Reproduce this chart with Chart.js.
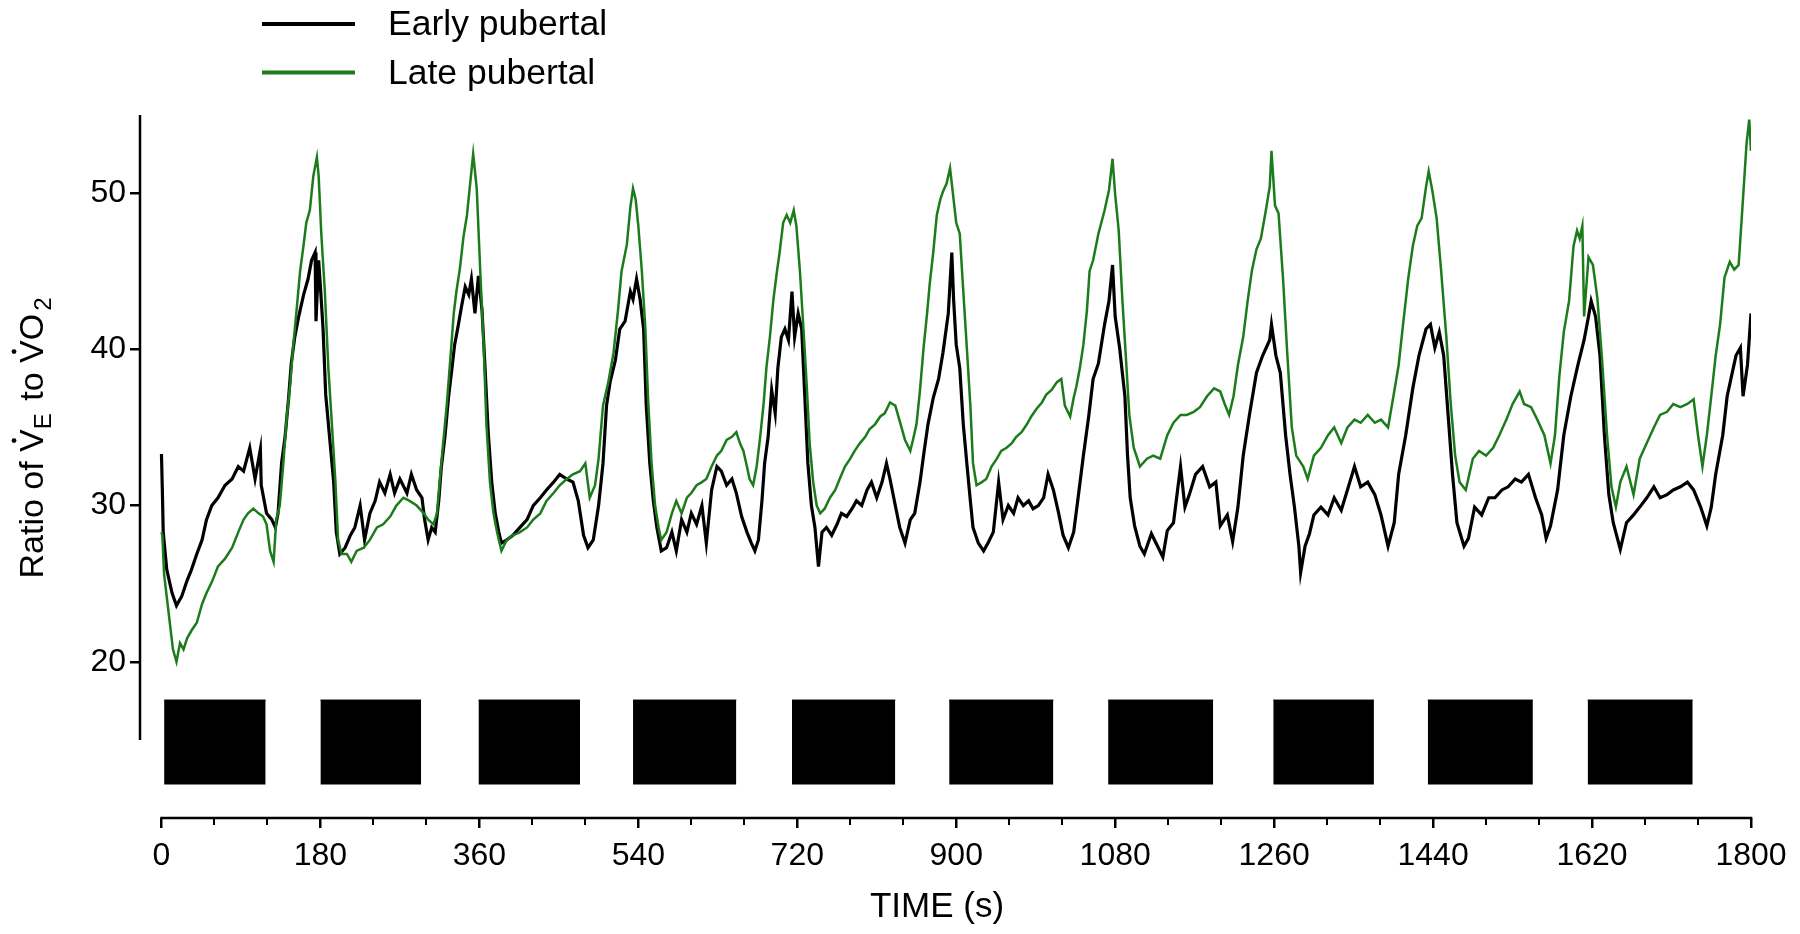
<!DOCTYPE html>
<html>
<head>
<meta charset="utf-8">
<style>
html,body{margin:0;padding:0;background:#fff;}
#wrap{width:1800px;height:934px;position:relative;}
</style>
</head>
<body>
<div id="wrap"><canvas id="c"></canvas></div>
<script src="https://cdn.jsdelivr.net/npm/chart.js@4/dist/chart.umd.min.js"></script>
<script>
// ---- data ----
const earlyTime = [
0,1,2,6,12,17,23,29,34,40,
46,51,57,64,72,80,87,93,100,106,
112,113,119,125,129,132,136,140,144,147,
151,155,161,166,170,174,175,178,180,183,
186,191,195,198,202,208,214,219,225,230,
236,242,247,253,259,264,270,278,283,289,
295,298,302,306,310,314,317,321,325,329,
332,336,340,344,348,351,355,359,363,366,
370,374,378,382,385,391,398,406,414,421,
429,436,444,451,459,466,472,478,483,489,
495,500,504,508,514,519,525,531,534,538,
542,546,549,553,557,561,566,572,578,583,
589,595,600,606,612,617,623,629,634,640,
646,651,657,663,668,672,676,680,683,687,
691,695,698,702,706,710,714,717,721,725,
729,732,736,740,744,748,753,759,765,770,
776,782,787,793,799,804,810,816,821,825,
831,836,842,848,853,859,863,868,874,880,
885,891,895,897,900,904,908,912,916,919,
925,931,936,942,948,953,959,965,970,976,
982,987,993,999,1004,1010,1016,1021,1027,1033,
1038,1044,1050,1055,1061,1068,1073,1077,1080,1085,
1091,1094,1097,1102,1108,1113,1121,1128,1134,1139,
1146,1154,1159,1164,1171,1179,1187,1194,1199,1207,
1213,1219,1225,1232,1240,1247,1255,1257,1262,1267,
1273,1278,1283,1288,1290,1295,1300,1305,1313,1321,
1328,1336,1343,1351,1358,1366,1374,1381,1389,1396,
1401,1409,1417,1424,1432,1437,1442,1447,1452,1457,
1462,1467,1475,1480,1487,1495,1503,1510,1518,1525,
1533,1540,1548,1556,1563,1568,1573,1581,1588,1596,
1604,1611,1616,1619,1624,1629,1634,1639,1644,1652,
1659,1667,1674,1682,1690,1697,1705,1712,1720,1728,
1735,1743,1750,1755,1760,1768,1773,1778,1783,1788,
1791,1796,1800];
const earlyRatio = [
33.3,31.0,28.3,25.9,24.4,23.6,24.2,25.2,25.9,26.9,
27.8,29.1,30.0,30.5,31.3,31.7,32.5,32.2,33.7,31.7,
33.6,31.3,29.5,29.1,28.6,29.5,32.7,34.4,36.9,39.1,
40.8,42.0,43.5,44.5,45.7,46.2,41.8,45.7,44.0,41.3,
37.1,34.0,31.5,28.3,26.9,27.3,28.1,28.6,30.0,27.8,
29.5,30.3,31.5,30.8,32.0,30.8,31.7,30.8,32.0,31.0,
30.5,29.1,27.8,28.6,28.3,30.3,32.5,34.4,36.9,38.8,
40.3,41.5,42.8,44.0,43.5,44.5,42.3,44.7,42.5,39.3,
34.7,31.5,29.5,28.3,27.6,27.8,28.1,28.6,29.1,30.0,
30.5,31.0,31.5,32.0,31.7,31.5,30.3,28.1,27.3,27.8,
30.0,32.7,36.4,37.9,39.3,41.3,41.8,43.7,43.2,44.5,
43.2,41.3,36.4,32.7,30.3,28.6,27.1,27.3,28.3,27.1,
29.1,28.3,29.5,28.8,30.0,27.6,31.0,32.5,32.2,31.3,
31.7,30.8,29.3,28.3,27.6,27.1,27.8,30.3,32.7,34.4,
37.4,35.9,38.8,40.8,41.3,40.6,43.7,40.8,42.3,41.3,
36.4,32.7,30.0,28.6,26.1,28.3,28.6,28.1,28.8,29.5,
29.3,29.8,30.3,30.0,31.0,31.5,30.5,31.5,32.7,31.7,
30.0,28.6,27.6,29.1,29.5,31.5,33.2,35.2,36.9,38.1,
39.8,42.3,46.2,43.2,40.3,38.8,35.2,32.7,30.3,28.6,
27.6,27.1,27.6,28.3,31.5,29.1,30.0,29.5,30.5,30.0,
30.3,29.8,30.0,30.5,32.0,31.0,29.5,28.1,27.3,28.3,
30.5,33.2,35.7,38.1,39.1,41.6,43.1,45.4,42.1,40.1,
37.0,33.2,30.5,28.7,27.4,26.9,28.2,27.4,26.7,28.4,
28.9,32.5,29.9,30.7,32.0,32.5,31.2,31.5,28.7,29.4,
27.7,29.9,33.2,35.8,38.5,39.6,40.6,41.6,39.6,38.5,
34.5,32.0,29.9,27.4,25.7,27.4,28.2,29.4,29.9,29.4,
30.5,29.7,31.0,32.5,31.2,31.5,30.7,29.4,27.4,28.9,
32.0,34.5,37.5,39.6,41.3,41.6,40.1,41.1,39.6,35.8,
32.0,28.9,27.4,27.9,29.9,29.4,30.5,30.5,31.0,31.2,
31.7,31.5,32.0,30.5,29.4,27.9,28.7,31.0,34.5,37.0,
39.0,40.6,42.1,43.1,42.1,39.6,34.5,30.7,28.9,27.2,
28.9,29.4,29.9,30.5,31.2,30.5,30.7,31.0,31.2,31.5,
31.0,29.9,28.7,29.9,32.0,34.5,37.0,38.3,39.6,40.1,
37.0,39.0,42.3];

const lateTime = [
0,1,3,8,13,17,21,25,29,34,
40,46,51,57,64,72,80,87,93,98,
104,110,115,119,123,127,130,134,138,142,
146,149,153,157,161,164,168,172,176,178,
181,185,189,193,197,200,204,210,215,221,
229,236,244,251,259,266,274,281,289,297,
302,308,312,315,319,323,327,331,334,338,
342,346,349,353,357,361,365,368,372,376,
380,385,391,398,406,414,421,429,436,444,
451,459,466,474,480,485,491,495,500,506,
512,517,521,527,531,534,537,540,544,548,
551,555,559,563,566,572,578,583,589,595,
600,606,612,617,623,629,634,640,646,651,
655,659,663,666,670,674,678,682,685,689,
693,697,700,704,708,712,716,719,723,727,
731,734,738,742,746,751,757,763,768,774,
780,785,791,797,802,808,814,819,825,831,
836,842,848,851,855,859,863,867,870,874,
878,882,885,889,893,897,900,904,908,912,
916,919,923,929,934,940,946,951,957,963,
968,974,980,985,991,997,1002,1008,1014,1019,
1023,1029,1033,1036,1040,1044,1048,1051,1055,1061,
1068,1073,1077,1080,1084,1088,1092,1096,1101,1108,
1116,1123,1131,1139,1146,1154,1161,1169,1176,1184,
1192,1199,1204,1209,1214,1219,1225,1230,1235,1240,
1245,1250,1255,1257,1261,1265,1270,1275,1280,1285,
1293,1298,1305,1313,1321,1328,1336,1343,1351,1358,
1366,1374,1381,1389,1396,1401,1406,1412,1417,1422,
1427,1432,1435,1439,1444,1449,1455,1460,1465,1470,
1477,1485,1492,1500,1508,1515,1523,1530,1538,1543,
1551,1558,1566,1573,1578,1583,1588,1594,1599,1603,
1606,1609,1611,1616,1621,1626,1631,1637,1642,1647,
1652,1659,1667,1674,1682,1690,1697,1705,1712,1720,
1728,1735,1740,1745,1750,1755,1760,1765,1770,1776,
1781,1786,1791,1795,1798,1800];
const lateRatio = [
28.3,28.1,25.6,23.2,20.8,20.0,21.2,20.8,21.5,22.0,
22.5,23.7,24.4,25.1,26.1,26.6,27.3,28.3,29.1,29.5,
29.8,29.5,29.3,28.8,27.1,26.4,29.1,30.0,32.7,35.7,
37.9,40.1,42.5,45.0,46.7,48.1,48.9,51.1,52.3,51.1,
47.4,43.7,38.8,35.2,31.5,27.8,26.9,26.9,26.4,27.1,
27.3,27.8,28.6,28.8,29.3,30.0,30.5,30.3,30.0,29.5,
29.1,28.8,29.5,31.5,34.0,36.4,39.3,42.3,43.7,45.2,
47.2,48.6,50.3,52.5,50.3,45.0,40.1,35.2,31.5,29.5,
28.3,27.1,27.8,28.1,28.3,28.6,29.1,29.5,30.3,30.8,
31.3,31.7,32.0,32.2,32.7,30.5,31.3,33.0,36.4,37.9,
39.8,42.5,45.0,46.7,49.1,50.3,49.6,47.9,45.0,41.3,
36.9,32.7,30.0,28.6,27.8,28.3,29.5,30.3,29.5,30.5,
30.8,31.3,31.5,31.7,32.5,33.2,33.5,34.2,34.4,34.7,
34.0,33.5,32.5,31.7,31.3,32.5,34.4,36.6,38.8,40.8,
43.2,45.0,46.2,48.1,48.6,48.1,48.9,47.9,45.0,41.3,
37.4,34.0,31.5,30.0,29.5,29.8,30.5,31.0,31.7,32.5,
33.0,33.5,34.0,34.4,34.9,35.2,35.7,35.9,36.6,36.4,
35.4,34.2,33.5,34.2,35.2,37.4,40.1,42.3,44.2,46.2,
48.6,49.6,50.1,50.6,51.6,49.6,48.1,47.4,43.7,40.1,
36.4,32.7,31.3,31.5,31.7,32.5,33.0,33.5,33.7,34.0,
34.4,34.7,35.2,35.7,36.2,36.6,37.1,37.4,37.9,38.1,
36.4,35.7,36.9,37.6,38.8,40.3,42.5,45.0,45.7,47.4,
48.9,50.2,52.2,49.9,47.6,43.3,39.6,35.8,33.7,32.5,
33.0,33.2,33.0,34.5,35.3,35.8,35.8,36.0,36.3,37.0,
37.5,37.3,36.5,35.8,37.0,39.0,40.8,43.1,45.1,46.4,
47.1,48.7,50.4,52.7,49.2,48.7,44.6,39.6,35.0,33.2,
32.5,31.7,33.2,33.7,34.5,35.0,34.0,35.0,35.5,35.3,
35.8,35.3,35.5,35.0,37.3,39.0,41.6,44.6,46.6,47.9,
48.4,50.4,51.4,50.2,48.4,45.1,40.8,36.5,33.2,31.5,
31.0,33.0,33.5,33.2,33.7,34.5,35.5,36.5,37.3,36.5,
36.3,35.5,34.5,32.7,34.5,38.3,41.1,43.1,46.6,47.6,
47.1,47.9,42.1,45.9,45.4,43.3,39.6,34.5,31.2,29.9,
31.5,32.5,30.7,33.0,34.0,35.0,35.8,36.0,36.5,36.3,
36.5,36.8,34.5,32.5,34.5,37.0,39.6,41.6,44.6,45.6,
45.1,45.4,49.7,53.2,54.7,52.7];

// exercise bouts (black bars), in seconds and ratio units
const barStart = [3,180,359,534,714,892,1072,1259,1434,1615];
const barEnd   = [118,294,474,651,831,1010,1191,1373,1553,1734];
const barTop = 17.55;
const barBottom = 12.15;

const xTicks = [0,180,360,540,720,900,1080,1260,1440,1620,1800];
const xMinorTicks = [60,120,240,300,420,480,600,660,780,840,960,1020,1140,1200,1320,1380,1500,1560,1680,1740];
const yTicks = [20,30,40,50];
const yAxisFrom = 15, yAxisTo = 55;

const seriesNames = ['Early pubertal','Late pubertal'];
const seriesColors = ['#000000','#1c7c1c'];

// ---- build datasets ----
const FONT = '"Liberation Sans", Arial, Helvetica, sans-serif';
const toXY = (ts, vs) => ts.map((t,i) => ({x:t, y:vs[i]}));

const datasets = [
  {label: seriesNames[1], data: toXY(lateTime, lateRatio), borderColor: seriesColors[1],
   borderWidth: 2.5, pointRadius: 0, fill: false, order: 1},
  {label: seriesNames[0], data: toXY(earlyTime, earlyRatio), borderColor: seriesColors[0],
   borderWidth: 3.2, pointRadius: 0, fill: false, order: 2}
];
barStart.forEach((s, i) => {
  datasets.push({
    label: 'bout' + (i+1),
    data: [{x: s, y: barTop}, {x: barEnd[i], y: barTop}],
    borderColor: '#000', borderWidth: 1, backgroundColor: '#000',
    pointRadius: 0, fill: {value: barBottom}, order: 3
  });
});

// ---- custom drawing: axis lines, minor ticks, titles, legend ----
const decorPlugin = {
  id: 'decor',
  afterDraw(chart) {
    const ctx = chart.ctx;
    const xs = chart.scales.x, ys = chart.scales.y;
    const ca = chart.chartArea;
    ctx.save();
    ctx.strokeStyle = '#000';
    ctx.lineWidth = 2.5;
    ctx.lineCap = 'butt';
    // x axis line
    const yb = ca.bottom;
    ctx.beginPath();
    ctx.moveTo(xs.getPixelForValue(xTicks[0]) - 1.2, yb);
    ctx.lineTo(xs.getPixelForValue(xTicks[xTicks.length-1]) + 1.2, yb);
    ctx.stroke();
    // minor ticks
    ctx.lineWidth = 2;
    xMinorTicks.forEach(v => {
      const px = Math.round(xs.getPixelForValue(v));
      ctx.beginPath(); ctx.moveTo(px, yb); ctx.lineTo(px, yb + 7); ctx.stroke();
    });
    // y axis line
    ctx.lineWidth = 2.5;
    ctx.beginPath();
    ctx.moveTo(ca.left, ys.getPixelForValue(yAxisFrom));
    ctx.lineTo(ca.left, ys.getPixelForValue(yAxisTo));
    ctx.stroke();

    // x title
    ctx.fillStyle = '#000';
    ctx.font = '35px ' + FONT;
    ctx.textAlign = 'center';
    ctx.textBaseline = 'alphabetic';
    ctx.fillText('TIME (s)', 937, 917);

    // y title (rotated, with dots and subscripts)
    const big = '34px ' + FONT, small = '24px ' + FONT;
    const parts = [
      {t: 'Ratio of ', f: big, dy: 0},
      {t: 'V', f: big, dy: 0, dot: true},
      {t: 'E', f: small, dy: 8},
      {t: ' to ', f: big, dy: 0},
      {t: 'V', f: big, dy: 0, dot: true},
      {t: 'O', f: big, dy: 0},
      {t: '2', f: small, dy: 8}
    ];
    let total = 0;
    parts.forEach(p => { ctx.font = p.f; p.w = ctx.measureText(p.t).width; total += p.w; });
    const gap = 3;
    total += gap * 2;
    ctx.translate(43, 438);
    ctx.rotate(-Math.PI / 2);
    ctx.textAlign = 'left';
    let u = -total / 2;
    parts.forEach((p, i) => {
      ctx.font = p.f;
      ctx.fillText(p.t, u, p.dy);
      if (p.dot) {
        ctx.beginPath();
        ctx.arc(u + p.w * 0.5, -29, 2.4, 0, Math.PI * 2);
        ctx.fill();
      }
      u += p.w;
      if (i === 2 || i === 5) u += gap;
    });
    ctx.restore();

    // legend
    ctx.save();
    const legY = [24, 72.5];
    const legTextY = [35, 84];
    ctx.font = '35.5px ' + FONT;
    ctx.textAlign = 'left';
    ctx.textBaseline = 'alphabetic';
    [1, 0].forEach((di, row) => {
      const ds = chart.data.datasets[di];
      ctx.strokeStyle = ds.borderColor;
      ctx.lineWidth = 4;
      ctx.beginPath();
      ctx.moveTo(262, legY[row]); ctx.lineTo(355, legY[row]);
      ctx.stroke();
      ctx.fillStyle = '#000';
      ctx.fillText(ds.label, 388, legTextY[row]);
    });
    ctx.restore();
  }
};

new Chart(document.getElementById('c'), {
  type: 'line',
  data: { datasets },
  options: {
    responsive: true,
    maintainAspectRatio: false,
    animation: false,
    devicePixelRatio: 1,
    layout: { padding: { top: 115, right: 49, bottom: 0, left: 0 } },
    plugins: { legend: { display: false }, tooltip: { enabled: false } },
    elements: { line: { tension: 0 } },
    scales: {
      x: {
        type: 'linear', min: -24.3, max: 1800,
        afterBuildTicks: s => { s.ticks = xTicks.map(v => ({ value: v })); },
        afterFit: s => { s.height = 116; },
        border: { display: false },
        grid: { drawOnChartArea: false, drawTicks: true, tickLength: 10, lineWidth: 2.5, color: '#000' },
        ticks: { font: { family: FONT, size: 32 }, color: '#000', padding: 9, maxRotation: 0, autoSkip: false,
                 callback: v => String(v) }
      },
      y: {
        type: 'linear', min: 10, max: 55,
        afterBuildTicks: s => { s.ticks = yTicks.map(v => ({ value: v })); },
        afterFit: s => { s.width = 140; },
        border: { display: false },
        grid: { drawOnChartArea: false, drawTicks: true, tickLength: 10, lineWidth: 2.5, color: '#000' },
        ticks: { font: { family: FONT, size: 32 }, color: '#000', padding: 4,
                 callback: v => String(v) }
      }
    }
  },
  plugins: [decorPlugin]
});
</script>
</body>
</html>
